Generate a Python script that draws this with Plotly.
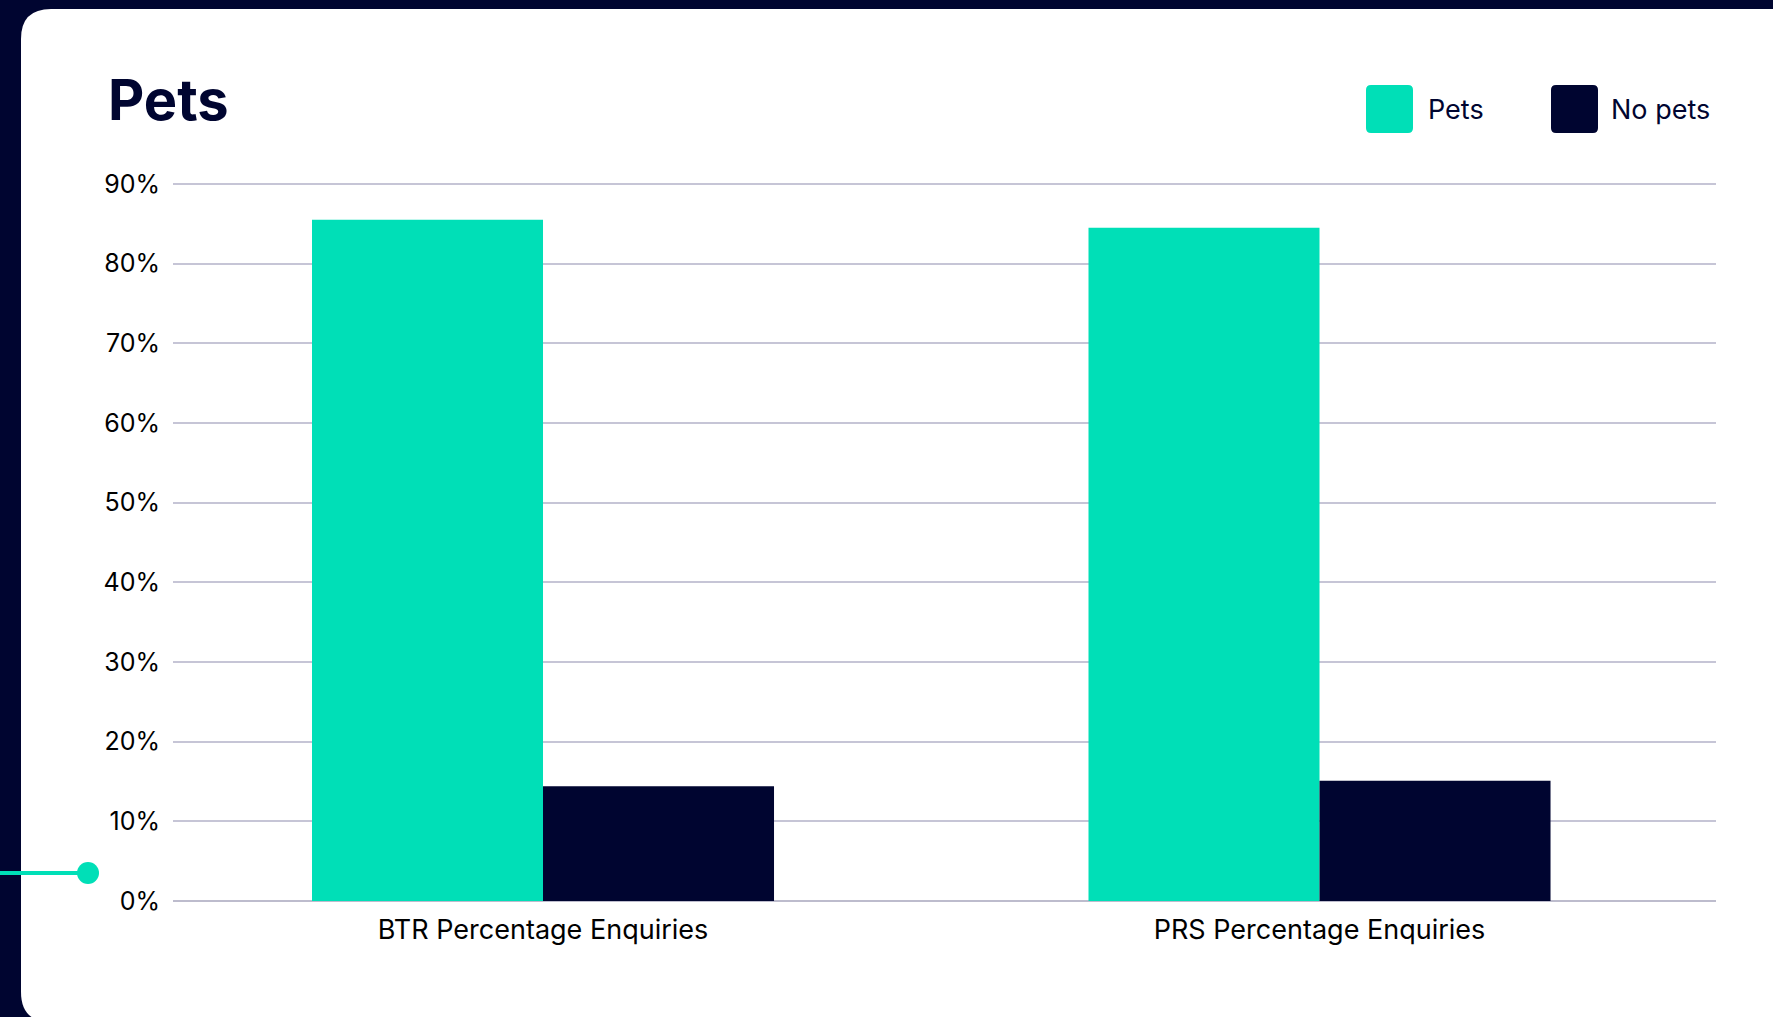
import plotly.graph_objects as go

categories = ["BTR Percentage Enquiries", "PRS Percentage Enquiries"]
pets = [85.5, 84.5]
no_pets = [14.4, 15.1]
y_ticks = [0, 10, 20, 30, 40, 50, 60, 70, 80, 90]
y_tick_labels = [f"{v}%" for v in y_ticks]
series_names = ["Pets", "No pets"]

TEAL = "#00DFB7"
NAVY = "#000530"
GRID = "#C6C5D6"
FONT = "Inter"

W, H = 1773, 1017
L, R = 173, 1716   # plot area pixel extents
Y_TOP = 90.5
B = 901
PX_PER_UNIT = (901 - 184) / 90.0
T = B - Y_TOP * PX_PER_UNIT


def px(x):
    return (x - L) / (R - L)


def py(y):
    return (B - y) / (B - T)


def rounded_rect(x0, y0, x1, y1, r):
    rx = r / (R - L)
    ry = r / (B - T)
    X0, X1 = px(x0), px(x1)
    Y0, Y1 = py(y0), py(y1)
    return (f"M {X0+rx},{Y0} L {X1-rx},{Y0} Q {X1},{Y0} {X1},{Y0-ry} "
            f"L {X1},{Y1+ry} Q {X1},{Y1} {X1-rx},{Y1} "
            f"L {X0+rx},{Y1} Q {X0},{Y1} {X0},{Y1+ry} "
            f"L {X0},{Y0-ry} Q {X0},{Y0} {X0+rx},{Y0} Z")


fig = go.Figure()
fig.add_trace(go.Bar(x=categories, y=pets, name=series_names[0],
                     marker=dict(color=TEAL, line=dict(width=0))))
fig.add_trace(go.Bar(x=categories, y=no_pets, name=series_names[1],
                     marker=dict(color=NAVY, line=dict(width=0))))

shapes = [
    dict(type="path", xref="paper", yref="paper", layer="below",
         path=rounded_rect(21, 9, 1840, 1022, 30),
         fillcolor="white", line=dict(width=0)),
    dict(type="line", xref="paper", yref="paper", layer="above",
         x0=px(0), x1=px(86), y0=py(873), y1=py(873),
         line=dict(color=TEAL, width=4)),
    dict(type="circle", xref="paper", yref="paper", layer="above",
         x0=px(77), x1=px(99), y0=py(862), y1=py(884),
         fillcolor=TEAL, line=dict(width=0)),
    dict(type="path", xref="paper", yref="paper", layer="above",
         path=rounded_rect(1366, 85, 1413, 133, 5),
         fillcolor=TEAL, line=dict(width=0)),
    dict(type="path", xref="paper", yref="paper", layer="above",
         path=rounded_rect(1551, 85, 1598, 133, 5),
         fillcolor=NAVY, line=dict(width=0)),
]

annotations = [
    dict(text="<b>Pets</b>", xref="paper", yref="paper", x=px(106), y=py(100),
         xanchor="left", yanchor="middle", showarrow=False,
         font=dict(family=FONT, size=56, color=NAVY)),
    dict(text=series_names[0], xref="paper", yref="paper", x=px(1426), y=py(110),
         xanchor="left", yanchor="middle", showarrow=False,
         font=dict(family=FONT, size=27, color=NAVY)),
    dict(text=series_names[1], xref="paper", yref="paper", x=px(1609), y=py(110),
         xanchor="left", yanchor="middle", showarrow=False,
         font=dict(family=FONT, size=27, color=NAVY)),
]

fig.update_layout(
    width=W, height=H,
    margin=dict(l=L, r=W - R, t=T, b=H - B, pad=0),
    paper_bgcolor=NAVY,
    plot_bgcolor="rgba(0,0,0,0)",
    barmode="group",
    bargap=0.405,
    bargroupgap=0,
    showlegend=False,
    shapes=shapes,
    annotations=annotations,
    font=dict(family=FONT, color="#000000"),
    xaxis=dict(range=[-0.4765, 1.5106], showgrid=False, zeroline=False,
               showline=False, ticks="", ticklabelstandoff=10,
               tickfont=dict(family=FONT, size=27, color="#000000")),
    yaxis=dict(range=[0, Y_TOP], tickvals=y_ticks, ticktext=y_tick_labels,
               showgrid=True, gridcolor=GRID, gridwidth=2,
               zeroline=True, zerolinecolor="#BDBCCD", zerolinewidth=2,
               showline=False, ticks="", ticklabelstandoff=12,
               tickfont=dict(family=FONT, size=25, color="#000000")),
)

fig.write_html("out.html",
               config={"displayModeBar": False},
               post_script="document.body.style.margin='0';document.body.style.overflow='hidden';")
